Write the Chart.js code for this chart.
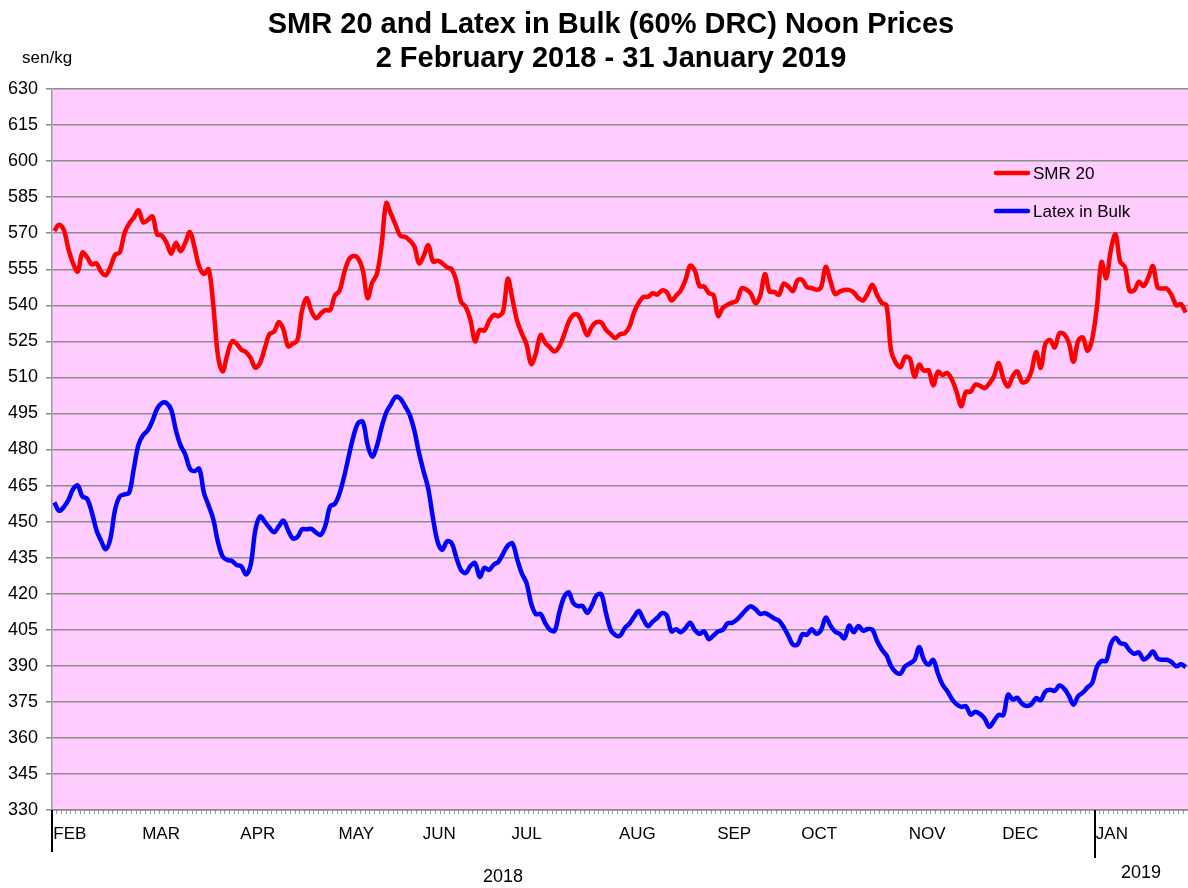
<!DOCTYPE html>
<html>
<head>
<meta charset="utf-8">
<script src="https://cdn.jsdelivr.net/npm/chart.js@4"></script>
<style>
  html, body { margin: 0; padding: 0; background: #ffffff; }
  #wrap { width: 1188px; height: 888px; position: relative; }
</style>
</head>
<body>
<div id="wrap"><canvas id="priceChart" width="1188" height="888"></canvas></div>
<script>
// month labels and trading days per month (2 Feb 2018 - 31 Jan 2019)
const months = ['FEB', 'MAR', 'APR', 'MAY', 'JUN', 'JUL', 'AUG', 'SEP', 'OCT', 'NOV', 'DEC', 'JAN'];
const tradingDays = [19, 21, 21, 18, 19, 23, 21, 18, 23, 20, 20, 20];
const years = ['2018', '2019'];

// SMR 20 noon prices, sen/kg
const smr20 = [
  571, 573.5, 571.5, 563.5, 557.5, 554, 562, 560, 557, 557.5,
  554, 552.5, 556, 561, 562, 570, 574, 576.5, 579.5, 574.5,
  575.5, 577, 569.5, 569, 566, 561.5, 566, 562.5, 566, 570.5,
  564, 556, 553, 555, 540, 519, 512.5, 519.5, 525, 524,
  521.5, 520.5, 518, 514, 516, 522, 528, 529, 533, 530,
  523, 524, 525.5, 538, 543, 537.5, 534.6, 536.5, 538, 538,
  544, 546, 553.5, 559, 560.5, 559.5, 554.5, 543, 549.5, 553,
  565, 582.5, 578, 573.5, 569, 568.5, 567, 564.5, 557.5, 560.5,
  565, 558.2, 558.5, 557.5, 555.8, 555, 550, 541.5, 539.3, 534,
  525, 529.8, 529.5, 533.5, 536, 535.5, 537.5, 551, 542.5, 533.5,
  528.3, 523.8, 515.5, 520, 527.6, 524.5, 522.5, 520.8, 522.8, 527.5,
  533, 536, 536, 532, 527.5, 531.2, 533, 532.8, 529.8, 528,
  526.4, 528, 528.4, 531, 537, 541, 543.5, 543.5, 545, 544.5,
  546.2, 545.5, 542, 544, 546.2, 550.5, 556.5, 554.5, 548, 547.8,
  545.1, 544.2, 535.6, 539, 540.2, 541.1, 542, 547, 546.6, 544.8,
  540.8, 544, 553, 545.7, 545.6, 544.4, 549, 547.8, 545.9, 550.5,
  550.5, 547.5, 547.2, 546.5, 547.5, 556, 550.2, 544.7, 545.7, 546.4,
  546.4, 545.3, 543, 542, 545, 548.5, 544.2, 541, 540, 521,
  516, 514.3, 518.5, 517.8, 510.3, 515.3, 512.8, 513, 506.7, 512.3,
  511, 511.8, 509, 504, 498, 504, 504, 507, 506.5, 505.5,
  507.5, 510.5, 516, 509.5, 506.2, 510.5, 512.5, 508, 508.5, 512.5,
  520.5, 514, 524, 525.5, 522.5, 528.4, 528, 524.5, 516.5, 525.2,
  526.6, 521, 526, 539, 558, 551.3, 563, 569.5, 558.2, 556,
  546, 546.2, 549.8, 548, 551.5, 556.3, 547.5, 547, 546.9, 544.2,
  540, 540.5, 537
];

// Latex in Bulk (60% DRC) noon prices, sen/kg
const latexBulk = [
  458, 454.5, 456, 459, 463.5, 465, 460.5, 459.5, 454, 446.5,
  442, 438.5, 443, 455, 460.5, 461.3, 462, 472, 482, 486,
  488, 492, 497, 499.3, 499.3, 496.5, 488, 481.7, 478, 472,
  471, 472, 462, 456.7, 451, 441.5, 435.5, 434, 433.6, 431.9,
  431.4, 428, 432, 446.5, 452.2, 450, 447.5, 445.6, 448, 450.4,
  446.4, 443, 443.6, 446.8, 446.8, 447, 445.4, 444.5, 448.5, 456.3,
  457.4, 461.7, 468.8, 477.4, 485.6, 491, 491.5, 482, 477, 481.5,
  489.2, 495.4, 498.8, 501.9, 501.2, 498.1, 494.5, 488, 478.6, 470.8,
  463.5, 451.3, 441.5, 438.3, 441.8, 441, 435, 429.8, 428.6, 431.5,
  432.7, 427, 430.8, 429.9, 432.1, 433.3, 436.7, 440, 440.9, 434.4,
  428.4, 424.5, 415.9, 411.5, 411.6, 407.8, 405, 404.5, 412, 418.4,
  420.6, 416.1, 414.8, 414.9, 412, 415.1, 419.3, 419.8, 411.9, 405,
  402.8, 402.5, 405.7, 407.5, 410.4, 412.8, 409.3, 406.5, 408.4, 410,
  411.9, 411, 404.4, 405.2, 404, 405.7, 407.9, 404.9, 403.3, 404.3,
  401.1, 402.6, 404.3, 405, 407.7, 407.9, 409.2, 411.2, 413.4, 414.8,
  413.5, 411.6, 412, 411, 409.7, 408.8, 406.1, 402.5, 398.8, 398.9,
  403.1, 402.9, 405.2, 403.3, 404.8, 410, 406.8, 404.2, 403.3, 401.4,
  406.7, 404, 406.6, 404.6, 405.3, 405, 400.3, 396.8, 394.3, 389.8,
  387.3, 386.8, 389.8, 391, 392.5, 397.8, 392.5, 390.4, 392.5, 386.8,
  382.1, 379.5, 376.2, 374, 372.9, 373.2, 369.7, 370.9, 370, 368,
  364.6, 367.1, 369.6, 369.5, 378, 376, 376.7, 374.2, 373.3, 374,
  376.6, 375.7, 379.3, 380, 379.6, 381.8, 380.5, 377.6, 373.8, 377.4,
  378.8, 381, 382.8, 389.5, 392, 392, 399, 401.7, 399.4, 399,
  396.5, 395, 395.6, 392.6, 393.8, 396, 393, 392.5, 392.5, 391.5,
  389.8, 390.6, 389.5
];

// one category per trading day, month name on the first day of each month
const labels = [];
months.forEach(function (m, k) {
  for (let d = 0; d < tradingDays[k]; d++) labels.push(d === 0 ? m : '');
});

const FONT = '"Liberation Sans", Arial, sans-serif';

const decorPlugin = {
  id: 'decor',
  beforeDraw: function (chart) {
    const a = chart.chartArea;
    const ctx = chart.ctx;
    ctx.save();
    ctx.fillStyle = '#FFCCFF';
    ctx.fillRect(a.left, a.top, a.right - a.left, a.bottom - a.top);
    ctx.restore();
  },
  afterDraw: function (chart) {
    const ctx = chart.ctx;
    const a = chart.chartArea;
    const xs = chart.scales.x;
    const half = xs.width / labels.length / 2;
    ctx.save();

    // title
    ctx.fillStyle = '#000';
    ctx.textAlign = 'center';
    ctx.textBaseline = 'middle';
    ctx.font = 'bold 29px ' + FONT;
    ctx.fillText('SMR 20 and Latex in Bulk (60% DRC) Noon Prices', 611, 25);
    ctx.fillText('2 February 2018 - 31 January 2019', 611, 59);

    // unit
    ctx.font = '17px ' + FONT;
    ctx.textAlign = 'left';
    ctx.fillText('sen/kg', 22, 58);

    // year separators at category boundaries
    ctx.strokeStyle = '#000';
    ctx.lineWidth = 2;
    const janIdx = labels.indexOf('JAN');
    [[0, 852], [janIdx, 858]].forEach(function (p) {
      const x = Math.round(xs.getPixelForValue(p[0]) - half);
      ctx.beginPath();
      ctx.moveTo(x, a.bottom);
      ctx.lineTo(x, p[1]);
      ctx.stroke();
    });

    // year labels
    ctx.font = '18px ' + FONT;
    ctx.textAlign = 'center';
    ctx.fillText(years[0], 503, 877);
    ctx.fillText(years[1], 1141, 873);

    // legend inside plot
    ctx.font = '17px ' + FONT;
    ctx.textAlign = 'left';
    chart.data.datasets.forEach(function (ds, k) {
      const y = 173 + k * 38;
      ctx.strokeStyle = ds.borderColor;
      ctx.lineWidth = 4.5;
      ctx.lineCap = 'round';
      ctx.beginPath();
      ctx.moveTo(996, y);
      ctx.lineTo(1028, y);
      ctx.stroke();
      ctx.fillStyle = '#000';
      ctx.fillText(ds.label, 1033, y + 1);
    });
    ctx.restore();
  }
};

new Chart(document.getElementById('priceChart').getContext('2d'), {
  type: 'line',
  data: {
    labels: labels,
    datasets: [{
      label: 'SMR 20',
      data: smr20,
      borderColor: '#FF0000',
      borderWidth: 4.5,
      pointRadius: 0,
      tension: 0.35
    },
    {
      label: 'Latex in Bulk',
      data: latexBulk,
      borderColor: '#0000FF',
      borderWidth: 4.5,
      pointRadius: 0,
      tension: 0.35
    }]
  },
  options: {
    responsive: false,
    animation: false,
    layout: { padding: { top: 89, left: 0, right: 0, bottom: 0 } },
    plugins: {
      legend: { display: false },
      tooltip: { enabled: false }
    },
    scales: {
      x: {
        type: 'category',
        offset: true,
        afterFit: function (s) { s.height = 78; s.paddingRight = 0; },
        grid: {
          offset: true,
          drawOnChartArea: false,
          drawTicks: true,
          tickLength: 4,
          color: '#999999',
          lineWidth: 1
        },
        border: { color: '#888888', width: 1.5 },
        ticks: {
          autoSkip: false,
          maxRotation: 0,
          minRotation: 0,
          align: 'start',
          padding: 10,
          labelOffset: -1,
          color: '#000',
          font: { family: FONT, size: 17 }
        }
      },
      y: {
        min: 330,
        max: 630,
        afterFit: function (s) { s.width = 52; },
        grid: {
          color: '#8C8C8C',
          lineWidth: 1.5,
          tickLength: 6
        },
        border: { color: '#999999', width: 1.5 },
        ticks: {
          stepSize: 15,
          padding: 8,
          color: '#000',
          font: { family: FONT, size: 18 }
        }
      }
    }
  },
  plugins: [decorPlugin]
});
</script>
</body>
</html>
